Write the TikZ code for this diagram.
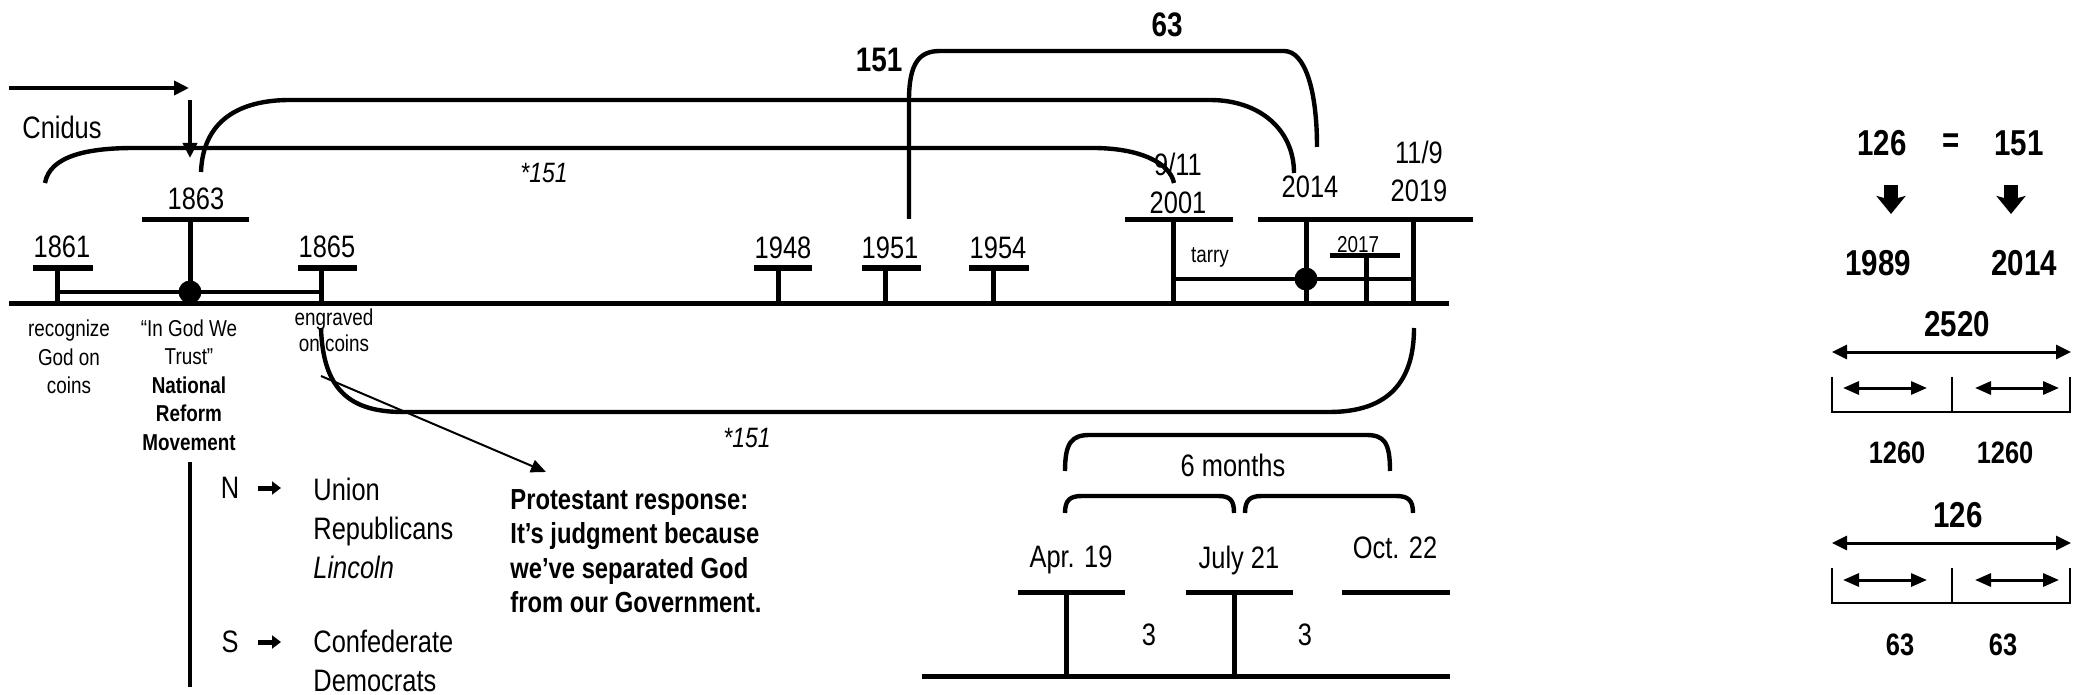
\documentclass[tikz,border=0pt]{standalone}
\usepackage{fontspec}
\setmainfont[FakeStretch=0.82]{Liberation Sans}
\usetikzlibrary{arrows.meta,calc}
\tikzset{
  tl/.style={line width=2.5pt},
  link/.style={line width=2pt},
  brk/.style={line width=2.2pt},
  thin/.style={line width=1pt},
  yr/.style={font=\fontsize{15.5}{19}\selectfont,align=center},
  sm/.style={font=\fontsize{11.5}{14.2}\selectfont,align=center},
  big/.style={font=\fontsize{17}{20}\selectfont\bfseries},
  ital/.style={font=\fontsize{14}{17}\selectfont\itshape},
  lbl/.style={font=\fontsize{15.5}{19.5}\selectfont,align=left,inner sep=0pt},
  prot/.style={font=\fontsize{14.5}{17.2}\selectfont\bfseries,align=left,inner sep=0pt},
  rnum/.style={font=\fontsize{18}{21}\selectfont\bfseries},
  rsmall/.style={font=\fontsize{15.5}{18}\selectfont\bfseries},
  harrow/.style={line width=2pt,-{Triangle[length=7.5pt,width=7pt]}},
  thinarrow/.style={line width=1pt,-{Triangle[length=7.5pt,width=6.5pt]}},
  nsarrow/.style={line width=2.5pt,-{Triangle[length=4.5pt,width=6.5pt]}},
  blockarrow/.style={line width=7pt,-{Stealth[length=9pt,width=14.5pt,inset=2pt]}},
  dblarrow/.style={line width=1.5pt,{Triangle[length=7.5pt,width=7pt]}-{Triangle[length=7.5pt,width=7pt]}},
  halfarrow/.style={line width=1.5pt,{Triangle[length=8pt,width=6.5pt]}-{Triangle[length=8pt,width=6.5pt]}},
  dot/.style={circle,fill,inner sep=0pt,minimum size=11.5pt}
}

\begin{document}
\begin{tikzpicture}[x=0.5pt,y=-0.5pt]
\useasboundingbox (0,0) rectangle (2076,695);

% main time line
\coordinate (L0) at (9,303);
\coordinate (L1) at (1449,303);
\draw[tl] (L0) -- (L1);

% civil war years
\node[yr] (y1861) at (62,247) {1861};
\node[yr] (y1863) at (196,199) {1863};
\node[yr] (y1865) at (327,247) {1865};
\draw[tl] (33,268) -- (93,268) (57,268) -- (57,303);
\draw[tl] (142,220) -- (249,220) (190,220) -- (190,303);
\draw[tl] (298,268) -- (357,268) (321,268) -- (321,303);
\draw[link] (57,292) -- (321,292);
\node[dot] (d1863) at (190,292) {};

% 1948 - 1954
\node[yr] (y1948) at (783,248) {1948};
\node[yr] (y1951) at (890,248) {1951};
\node[yr] (y1954) at (998,248) {1954};
\draw[tl] (754,268) -- (812,268) (778,268) -- (778,303);
\draw[tl] (862,268) -- (921,268) (885,268) -- (885,303);
\draw[tl] (969,268) -- (1029,268) (993,268) -- (993,303);

% 2001 - 2019
\node[yr] (y2001) at (1178,183) {9/11\\2001};
\node[yr] (y2014) at (1310,187) {2014};
\node[yr] (y2019) at (1419,171) {11/9\\2019};
\node[sm] (y2017) at (1358,245) {2017};
\node[sm] (tarry) at (1210,257) {tarry};
\draw[tl] (1125,220) -- (1233,220) (1173,220) -- (1173,303);
\draw[tl] (1258,220) -- (1365,220) (1306,220) -- (1306,303);
\draw[tl] (1365,220) -- (1473,220) (1413,220) -- (1413,303);
\draw[tl] (1330,256) -- (1400,256) (1366,256) -- (1366,303);
\draw[link] (1173,279) -- (1413,279);
\node[dot] (d2014) at (1306,279) {};

% brackets
\draw[brk] (45,183) .. controls (50,155) and (90,148) .. (134,148) -- (1093,148) .. controls (1140,148) and (1170,163) .. (1174,183);
\draw[brk] (201,172) .. controls (203,120) and (240,100) .. (290,100) -- (1210,100) .. controls (1260,100) and (1294,130) .. (1294,173);
\draw[brk] (909,219) -- (909,100) .. controls (909,62) and (920,51) .. (940,51) -- (1284,51) .. controls (1305,51) and (1317,90) .. (1317,147);
\draw[brk] (321,328) .. controls (323,390) and (350,412) .. (403,412) -- (1329,412) .. controls (1390,412) and (1414,380) .. (1414,328);
\node[ital] (s151a) at (544,173) {*151};
\node[ital] (s151b) at (747,438) {*151};
\node[big] (n151) at (879,60) {151};
\node[big] (n63) at (1167,25) {63};

% Cnidus
\node[yr] (cnidus) at (62,127) {Cnidus};
\coordinate (a0) at (9,88);
\coordinate (a1) at (189,88);
\coordinate (b0) at (190,100);
\coordinate (b1) at (190,158);
\draw[harrow] (a0) -- (a1);
\draw[harrow] (b0) -- (b1);

% notes below the line
\node[sm] (recog) at (69,357) {recognize\\God on\\coins};
\node[sm] (trust) at (189,385) {“In God We\\Trust”\\\textbf{National}\\\textbf{Reform}\\\textbf{Movement}};
\node[sm,font=\fontsize{11.5}{13}\selectfont] (engr) at (334,330) {engraved\\on coins};

% north and south
\draw[brk] (190,462) -- (190,687);
\node[lbl] (north) at (230,488) {N};
\node[lbl] (south) at (230,642) {S};
\draw[nsarrow] (258,488) -- (281,488);
\draw[nsarrow] (258,642) -- (281,642);
\node[lbl,anchor=west] (union) at (313,528) {Union\\Republicans\\\textit{Lincoln}};
\node[lbl,anchor=west] (conf) at (313,661) {Confederate\\Democrats};

% protestant response
\node[prot,anchor=west] (prot) at (510,551) {Protestant response:\\It’s judgment because\\we’ve separated God\\from our Government.};
\coordinate (ptail) at (321,376);
\coordinate (ptip) at (546,472);
\draw[thinarrow] (ptail) -- (ptip);

% six months
\draw[brk] (1065,471) .. controls (1065,442) and (1072,435) .. (1090,435) -- (1366,435) .. controls (1384,435) and (1390,442) .. (1390,471);
\draw[brk] (1065,513) .. controls (1065,500) and (1070,496) .. (1082,496) -- (1218,496) .. controls (1230,496) and (1234,500) .. (1234,513);
\draw[brk] (1245,513) .. controls (1245,500) and (1250,496) .. (1262,496) -- (1396,496) .. controls (1408,496) and (1413,500) .. (1413,513);
\node[yr] (six) at (1233,465) {6 months};
\node[yr] (apr) at (1071,560) {Apr. 19};
\node[yr] (july) at (1239,560) {July 21};
\node[yr] (oct) at (1395,548) {Oct. 22};
\draw[tl] (1018,592) -- (1125,592) (1066,592) -- (1066,676);
\draw[tl] (1186,592) -- (1293,592) (1234,592) -- (1234,676);
\draw[tl] (1342,592) -- (1450,592);
\draw[tl] (922,676) -- (1450,676);
\node[yr] (m3a) at (1149,635) {3};
\node[yr] (m3b) at (1305,635) {3};

% right panel
\node[rnum] (r126) at (1882,143) {126};
\node[rnum] (req) at (1951,143) {=};
\node[rnum] (r151) at (2019,143) {151};
\draw[blockarrow] (1891,185) -- (1891,214);
\draw[blockarrow] (2011,185) -- (2011,214);
\node[rnum] (r1989) at (1878,263) {1989};
\node[rnum] (r2014) at (2024,263) {2014};
\node[rnum] (r2520) at (1957,324) {2520};
\draw[dblarrow] (1832,352) -- (2071,352);
\draw[thin] (1832,377) -- (1832,412) -- (2070,412) -- (2070,377) (1952,377) -- (1952,412);
\draw[halfarrow] (1843,388) -- (1927,388);
\draw[halfarrow] (1975,388) -- (2059,388);
\node[rsmall] (r1260a) at (1897,453) {1260};
\node[rsmall] (r1260b) at (2005,453) {1260};
\node[rnum] (r126b) at (1958,515) {126};
\draw[dblarrow] (1832,543) -- (2071,543);
\draw[thin] (1832,568) -- (1832,603) -- (2070,603) -- (2070,568) (1952,568) -- (1952,603);
\draw[halfarrow] (1843,580) -- (1927,580);
\draw[halfarrow] (1975,580) -- (2059,580);
\node[rsmall] (r63a) at (1900,645) {63};
\node[rsmall] (r63b) at (2003,645) {63};
\end{tikzpicture}
\end{document}
